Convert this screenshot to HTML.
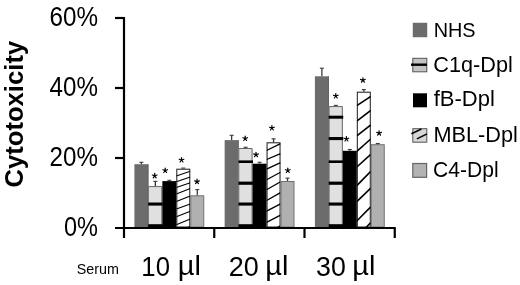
<!DOCTYPE html><html><head><meta charset="utf-8"><style>html,body{margin:0;padding:0;background:#fff;}body{width:520px;height:285px;overflow:hidden;}svg{display:block;filter:grayscale(1);}text{font-family:"Liberation Sans",sans-serif;}</style></head><body>
<svg width="520" height="285" viewBox="0 0 520 285">
<defs>
<clipPath id="mc0"><rect x="176.31" y="168.70" width="13.97" height="58.30"/></clipPath>
<clipPath id="mc1"><rect x="266.56" y="142.30" width="13.97" height="84.70"/></clipPath>
<clipPath id="mc2"><rect x="356.81" y="91.70" width="13.97" height="135.30"/></clipPath>
</defs>
<rect x="134.40" y="164.20" width="13.97" height="62.80" fill="#6c6c6c"/>
<rect x="147.87" y="164.20" width="0.5" height="62.80" fill="#4a4a4a"/>
<line x1="141.39" y1="162.30" x2="141.39" y2="164.20" stroke="#3a3a3a" stroke-width="1.3"/>
<line x1="139.39" y1="162.30" x2="143.39" y2="162.30" stroke="#3a3a3a" stroke-width="1.1"/>
<rect x="148.37" y="186.10" width="13.97" height="40.90" fill="#e0e0e0"/>
<path d="M148.87,186.60H161.84V227.00" fill="none" stroke="#666" stroke-width="1"/>
<rect x="148.37" y="186.10" width="0.6" height="40.90" fill="#4a4a4a"/>
<rect x="148.17" y="202.50" width="14.57" height="3.10" fill="#000"/>
<rect x="148.17" y="224.20" width="14.57" height="2.80" fill="#000"/>
<line x1="155.36" y1="181.40" x2="155.36" y2="186.10" stroke="#3a3a3a" stroke-width="1.3"/>
<line x1="153.36" y1="181.40" x2="157.36" y2="181.40" stroke="#3a3a3a" stroke-width="1.1"/>
<path d="M154.70,175.80L154.70,173.35M154.70,175.80L157.03,175.04M154.70,175.80L156.14,177.78M154.70,175.80L153.26,177.78M154.70,175.80L152.37,175.04" stroke="#000" stroke-width="1.2" stroke-linecap="round" fill="none"/><circle cx="154.70" cy="175.80" r="0.95" fill="#000"/>
<rect x="162.34" y="181.10" width="13.97" height="45.90" fill="#000"/>
<line x1="169.33" y1="180.30" x2="169.33" y2="181.10" stroke="#3a3a3a" stroke-width="1.3"/>
<line x1="167.33" y1="180.30" x2="171.33" y2="180.30" stroke="#3a3a3a" stroke-width="1.1"/>
<path d="M165.20,170.50L165.20,168.05M165.20,170.50L167.53,169.74M165.20,170.50L166.64,172.48M165.20,170.50L163.76,172.48M165.20,170.50L162.87,169.74" stroke="#000" stroke-width="1.2" stroke-linecap="round" fill="none"/><circle cx="165.20" cy="170.50" r="0.95" fill="#000"/>
<rect x="176.81" y="169.20" width="12.97" height="57.80" fill="#fff" stroke="#1a1a1a" stroke-width="1"/>
<g clip-path="url(#mc0)" stroke="#000" stroke-width="1.1">
<line x1="176.31" y1="176.00" x2="190.28" y2="171.30"/>
<line x1="176.31" y1="181.80" x2="190.28" y2="177.10"/>
<line x1="176.31" y1="187.60" x2="190.28" y2="182.80"/>
<line x1="176.31" y1="193.90" x2="190.28" y2="188.60"/>
<line x1="176.31" y1="201.60" x2="190.28" y2="196.00"/>
<line x1="176.31" y1="208.90" x2="190.28" y2="203.90"/>
<line x1="176.31" y1="216.80" x2="190.28" y2="211.20"/>
<line x1="176.31" y1="224.70" x2="190.28" y2="219.00"/>
<line x1="176.31" y1="232.00" x2="190.28" y2="226.50"/>
</g>
<line x1="181.30" y1="168.10" x2="185.30" y2="168.10" stroke="#3a3a3a" stroke-width="1.1"/>
<path d="M181.50,160.00L181.50,157.55M181.50,160.00L183.83,159.24M181.50,160.00L182.94,161.98M181.50,160.00L180.06,161.98M181.50,160.00L179.17,159.24" stroke="#000" stroke-width="1.2" stroke-linecap="round" fill="none"/><circle cx="181.50" cy="160.00" r="0.95" fill="#000"/>
<rect x="190.78" y="195.80" width="12.97" height="31.20" fill="#b0b0b0" stroke="#727272" stroke-width="1"/>
<line x1="197.27" y1="189.60" x2="197.27" y2="195.30" stroke="#3a3a3a" stroke-width="1.3"/>
<line x1="195.27" y1="189.60" x2="199.27" y2="189.60" stroke="#3a3a3a" stroke-width="1.1"/>
<path d="M197.00,181.60L197.00,179.15M197.00,181.60L199.33,180.84M197.00,181.60L198.44,183.58M197.00,181.60L195.56,183.58M197.00,181.60L194.67,180.84" stroke="#000" stroke-width="1.2" stroke-linecap="round" fill="none"/><circle cx="197.00" cy="181.60" r="0.95" fill="#000"/>
<rect x="224.65" y="140.10" width="13.97" height="86.90" fill="#6c6c6c"/>
<rect x="238.12" y="140.10" width="0.5" height="86.90" fill="#4a4a4a"/>
<line x1="231.64" y1="135.30" x2="231.64" y2="140.10" stroke="#3a3a3a" stroke-width="1.3"/>
<line x1="229.64" y1="135.30" x2="233.64" y2="135.30" stroke="#3a3a3a" stroke-width="1.1"/>
<rect x="238.62" y="148.00" width="13.97" height="79.00" fill="#e0e0e0"/>
<path d="M239.12,148.50H252.09V227.00" fill="none" stroke="#666" stroke-width="1"/>
<rect x="238.62" y="148.00" width="0.6" height="79.00" fill="#4a4a4a"/>
<rect x="238.42" y="160.40" width="14.57" height="2.60" fill="#000"/>
<rect x="238.42" y="181.60" width="14.57" height="3.20" fill="#000"/>
<rect x="238.42" y="202.50" width="14.57" height="3.10" fill="#000"/>
<rect x="238.42" y="224.20" width="14.57" height="2.80" fill="#000"/>
<line x1="245.61" y1="147.30" x2="245.61" y2="148.00" stroke="#3a3a3a" stroke-width="1.3"/>
<line x1="243.61" y1="147.30" x2="247.61" y2="147.30" stroke="#3a3a3a" stroke-width="1.1"/>
<path d="M245.20,138.50L245.20,136.05M245.20,138.50L247.53,137.74M245.20,138.50L246.64,140.48M245.20,138.50L243.76,140.48M245.20,138.50L242.87,137.74" stroke="#000" stroke-width="1.2" stroke-linecap="round" fill="none"/><circle cx="245.20" cy="138.50" r="0.95" fill="#000"/>
<rect x="252.59" y="163.70" width="13.97" height="63.30" fill="#000"/>
<line x1="259.57" y1="162.30" x2="259.57" y2="163.70" stroke="#3a3a3a" stroke-width="1.3"/>
<line x1="257.57" y1="162.30" x2="261.57" y2="162.30" stroke="#3a3a3a" stroke-width="1.1"/>
<path d="M256.00,154.70L256.00,152.25M256.00,154.70L258.33,153.94M256.00,154.70L257.44,156.68M256.00,154.70L254.56,156.68M256.00,154.70L253.67,153.94" stroke="#000" stroke-width="1.2" stroke-linecap="round" fill="none"/><circle cx="256.00" cy="154.70" r="0.95" fill="#000"/>
<rect x="267.06" y="142.80" width="12.97" height="84.20" fill="#fff" stroke="#1a1a1a" stroke-width="1"/>
<g clip-path="url(#mc1)" stroke="#000" stroke-width="1.3">
<line x1="266.56" y1="141.50" x2="280.53" y2="134.50"/>
<line x1="266.56" y1="150.50" x2="280.53" y2="143.70"/>
<line x1="266.56" y1="159.50" x2="280.53" y2="153.70"/>
<line x1="266.56" y1="169.20" x2="280.53" y2="162.60"/>
<line x1="266.56" y1="179.70" x2="280.53" y2="172.30"/>
<line x1="266.56" y1="189.70" x2="280.53" y2="181.80"/>
<line x1="266.56" y1="200.50" x2="280.53" y2="192.60"/>
<line x1="266.56" y1="211.20" x2="280.53" y2="203.90"/>
<line x1="266.56" y1="222.40" x2="280.53" y2="215.10"/>
<line x1="266.56" y1="233.00" x2="280.53" y2="225.80"/>
</g>
<line x1="273.55" y1="138.80" x2="273.55" y2="142.30" stroke="#3a3a3a" stroke-width="1.3"/>
<line x1="271.55" y1="138.80" x2="275.55" y2="138.80" stroke="#3a3a3a" stroke-width="1.1"/>
<path d="M271.90,128.00L271.90,125.55M271.90,128.00L274.23,127.24M271.90,128.00L273.34,129.98M271.90,128.00L270.46,129.98M271.90,128.00L269.57,127.24" stroke="#000" stroke-width="1.2" stroke-linecap="round" fill="none"/><circle cx="271.90" cy="128.00" r="0.95" fill="#000"/>
<rect x="281.03" y="181.50" width="12.97" height="45.50" fill="#b0b0b0" stroke="#727272" stroke-width="1"/>
<line x1="287.52" y1="178.10" x2="287.52" y2="181.00" stroke="#3a3a3a" stroke-width="1.3"/>
<line x1="285.52" y1="178.10" x2="289.52" y2="178.10" stroke="#3a3a3a" stroke-width="1.1"/>
<path d="M287.80,170.50L287.80,168.05M287.80,170.50L290.13,169.74M287.80,170.50L289.24,172.48M287.80,170.50L286.36,172.48M287.80,170.50L285.47,169.74" stroke="#000" stroke-width="1.2" stroke-linecap="round" fill="none"/><circle cx="287.80" cy="170.50" r="0.95" fill="#000"/>
<rect x="314.90" y="76.30" width="13.97" height="150.70" fill="#6c6c6c"/>
<rect x="328.37" y="76.30" width="0.5" height="150.70" fill="#4a4a4a"/>
<line x1="321.88" y1="68.20" x2="321.88" y2="76.30" stroke="#3a3a3a" stroke-width="1.3"/>
<line x1="319.88" y1="68.20" x2="323.88" y2="68.20" stroke="#3a3a3a" stroke-width="1.1"/>
<rect x="328.87" y="106.10" width="13.97" height="120.90" fill="#e0e0e0"/>
<path d="M329.37,106.60H342.34V227.00" fill="none" stroke="#666" stroke-width="1"/>
<rect x="328.87" y="106.10" width="0.6" height="120.90" fill="#4a4a4a"/>
<rect x="328.67" y="115.70" width="14.57" height="3.00" fill="#000"/>
<rect x="328.67" y="137.00" width="14.57" height="3.10" fill="#000"/>
<rect x="328.67" y="160.40" width="14.57" height="2.60" fill="#000"/>
<rect x="328.67" y="181.60" width="14.57" height="3.20" fill="#000"/>
<rect x="328.67" y="202.50" width="14.57" height="3.10" fill="#000"/>
<rect x="328.67" y="224.20" width="14.57" height="2.80" fill="#000"/>
<line x1="335.86" y1="105.40" x2="335.86" y2="106.10" stroke="#3a3a3a" stroke-width="1.3"/>
<line x1="333.86" y1="105.40" x2="337.86" y2="105.40" stroke="#3a3a3a" stroke-width="1.1"/>
<path d="M335.80,96.00L335.80,93.55M335.80,96.00L338.13,95.24M335.80,96.00L337.24,97.98M335.80,96.00L334.36,97.98M335.80,96.00L333.47,95.24" stroke="#000" stroke-width="1.2" stroke-linecap="round" fill="none"/><circle cx="335.80" cy="96.00" r="0.95" fill="#000"/>
<rect x="342.84" y="150.80" width="13.97" height="76.20" fill="#000"/>
<line x1="349.82" y1="149.50" x2="349.82" y2="150.80" stroke="#3a3a3a" stroke-width="1.3"/>
<line x1="347.82" y1="149.50" x2="351.82" y2="149.50" stroke="#3a3a3a" stroke-width="1.1"/>
<path d="M346.40,139.00L346.40,136.55M346.40,139.00L348.73,138.24M346.40,139.00L347.84,140.98M346.40,139.00L344.96,140.98M346.40,139.00L344.07,138.24" stroke="#000" stroke-width="1.2" stroke-linecap="round" fill="none"/><circle cx="346.40" cy="139.00" r="0.95" fill="#000"/>
<rect x="357.31" y="92.20" width="12.97" height="134.80" fill="#fff" stroke="#1a1a1a" stroke-width="1"/>
<g clip-path="url(#mc2)" stroke="#000" stroke-width="1.6">
<line x1="356.81" y1="90.00" x2="370.78" y2="82.00"/>
<line x1="356.81" y1="105.60" x2="370.78" y2="96.50"/>
<line x1="356.81" y1="121.20" x2="370.78" y2="110.50"/>
<line x1="356.81" y1="135.90" x2="370.78" y2="124.80"/>
<line x1="356.81" y1="151.30" x2="370.78" y2="139.00"/>
<line x1="356.81" y1="167.00" x2="370.78" y2="154.40"/>
<line x1="356.81" y1="185.60" x2="370.78" y2="171.30"/>
<line x1="356.81" y1="201.60" x2="370.78" y2="188.20"/>
<line x1="356.81" y1="221.00" x2="370.78" y2="206.80"/>
<line x1="356.81" y1="237.00" x2="370.78" y2="222.60"/>
</g>
<line x1="363.80" y1="89.60" x2="363.80" y2="91.70" stroke="#3a3a3a" stroke-width="1.3"/>
<line x1="361.80" y1="89.60" x2="365.80" y2="89.60" stroke="#3a3a3a" stroke-width="1.1"/>
<path d="M362.90,80.20L362.90,77.75M362.90,80.20L365.23,79.44M362.90,80.20L364.34,82.18M362.90,80.20L361.46,82.18M362.90,80.20L360.57,79.44" stroke="#000" stroke-width="1.2" stroke-linecap="round" fill="none"/><circle cx="362.90" cy="80.20" r="0.95" fill="#000"/>
<rect x="371.28" y="144.70" width="12.97" height="82.30" fill="#b0b0b0" stroke="#727272" stroke-width="1"/>
<line x1="377.76" y1="143.50" x2="377.76" y2="144.20" stroke="#3a3a3a" stroke-width="1.3"/>
<line x1="375.76" y1="143.50" x2="379.76" y2="143.50" stroke="#3a3a3a" stroke-width="1.1"/>
<path d="M379.10,133.20L379.10,130.75M379.10,133.20L381.43,132.44M379.10,133.20L380.54,135.18M379.10,133.20L377.66,135.18M379.10,133.20L376.77,132.44" stroke="#000" stroke-width="1.2" stroke-linecap="round" fill="none"/><circle cx="379.10" cy="133.20" r="0.95" fill="#000"/>
<line x1="124.00" y1="17" x2="124.00" y2="238" stroke="#000" stroke-width="2.2"/>
<line x1="115" y1="228" x2="395.75" y2="228" stroke="#000" stroke-width="2.2"/>
<line x1="115" y1="18" x2="124.00" y2="18" stroke="#000" stroke-width="2.2"/>
<line x1="115" y1="88" x2="124.00" y2="88" stroke="#000" stroke-width="2.2"/>
<line x1="115" y1="158" x2="124.00" y2="158" stroke="#000" stroke-width="2.2"/>
<line x1="214.25" y1="228" x2="214.25" y2="238" stroke="#000" stroke-width="2.2"/>
<line x1="304.50" y1="228" x2="304.50" y2="238" stroke="#000" stroke-width="2.2"/>
<line x1="394.75" y1="228" x2="394.75" y2="238" stroke="#000" stroke-width="2.2"/>
<g transform="translate(9.278,-2.229) scale(0.9143,1.0640)"><text x="97" y="26.7" font-size="26.5" font-weight="normal" text-anchor="end" fill="#000">60%</text></g>
<g transform="translate(9.468,-6.449) scale(0.9123,1.0613)"><text x="97" y="96.7" font-size="26.5" font-weight="normal" text-anchor="end" fill="#000">40%</text></g>
<g transform="translate(9.468,-10.743) scale(0.9123,1.0613)"><text x="97" y="166.7" font-size="26.5" font-weight="normal" text-anchor="end" fill="#000">20%</text></g>
<g transform="translate(11.855,-14.123) scale(0.8869,1.0588)"><text x="97" y="236.7" font-size="26.5" font-weight="normal" text-anchor="end" fill="#000">0%</text></g>
<g transform="translate(-0.615,-1.854) scale(1.0255,1.0143)"><g transform="translate(22.7,186.8) rotate(-90)"><text x="0" y="0" font-size="25.3" font-weight="bold" text-anchor="start" fill="#000">Cytotoxicity</text></g></g>
<g transform="translate(-2.633,-7.169) scale(1.0241,1.0256)"><text x="77.5" y="273.8" font-size="14" font-weight="normal" text-anchor="start" fill="#000">Serum</text></g>
<g transform="translate(4.963,-4.375) scale(0.9537,1.0158)"><text x="143" y="276" font-size="27" font-weight="normal" text-anchor="start" fill="#000">10</text></g>
<g transform="translate(-15.194,-0.950) scale(1.0723,1.0000)"><text x="180" y="276" font-size="27" font-weight="normal" text-anchor="start" fill="#000">µl</text></g>
<g transform="translate(-1.250,-4.375) scale(1.0000,1.0158)"><text x="230" y="276" font-size="27" font-weight="normal" text-anchor="start" fill="#000">20</text></g>
<g transform="translate(-20.163,-0.950) scale(1.0694,1.0000)"><text x="267" y="276" font-size="27" font-weight="normal" text-anchor="start" fill="#000">µl</text></g>
<g transform="translate(1.839,-4.375) scale(0.9911,1.0158)"><text x="317" y="276" font-size="27" font-weight="normal" text-anchor="start" fill="#000">30</text></g>
<g transform="translate(-26.205,-0.950) scale(1.0694,1.0000)"><text x="354" y="276" font-size="27" font-weight="normal" text-anchor="start" fill="#000">µl</text></g>
<g transform="translate(2.951,-2.234) scale(0.9924,1.0492)"><text x="434" y="37" font-size="20" font-weight="normal" text-anchor="start" fill="#000">NHS</text></g>
<g transform="translate(-37.055,-8.579) scale(1.0838,1.1135)"><text x="434" y="72" font-size="20" font-weight="normal" text-anchor="start" fill="#000">C1q-Dpl</text></g>
<g transform="translate(-43.676,-9.852) scale(1.1000,1.0865)"><text x="434" y="107" font-size="20" font-weight="normal" text-anchor="start" fill="#000">fB-Dpl</text></g>
<g transform="translate(-37.711,-9.380) scale(1.0856,1.0649)"><text x="434" y="142" font-size="20" font-weight="normal" text-anchor="start" fill="#000">MBL-Dpl</text></g>
<g transform="translate(-24.420,-11.985) scale(1.0542,1.0649)"><text x="434" y="177.5" font-size="20" font-weight="normal" text-anchor="start" fill="#000">C4-Dpl</text></g>
<rect x="413.2" y="23.2" width="13.6" height="13.6" fill="#6c6c6c" stroke="#5a5a5a" stroke-width="0.8"/>
<rect x="412.8" y="58.3" width="14" height="13.5" fill="#c4c4c4" stroke="#555" stroke-width="1"/>
<rect x="411" y="63.5" width="16" height="2.4" fill="#000"/>
<rect x="413" y="93.3" width="14" height="14" fill="#000"/>
<rect x="412.8" y="128.70000000000002" width="14" height="13.5" fill="#d6d6d6" stroke="#555" stroke-width="1"/>
<line x1="411.4" y1="133.70000000000002" x2="421.4" y2="129.1" stroke="#000" stroke-width="1.6"/>
<line x1="416.9" y1="138.9" x2="427" y2="133.9" stroke="#000" stroke-width="1.6"/>
<rect x="412.8" y="163.5" width="13.8" height="13.8" fill="#b3b3b3" stroke="#666" stroke-width="1.2"/>
</svg></body></html>
